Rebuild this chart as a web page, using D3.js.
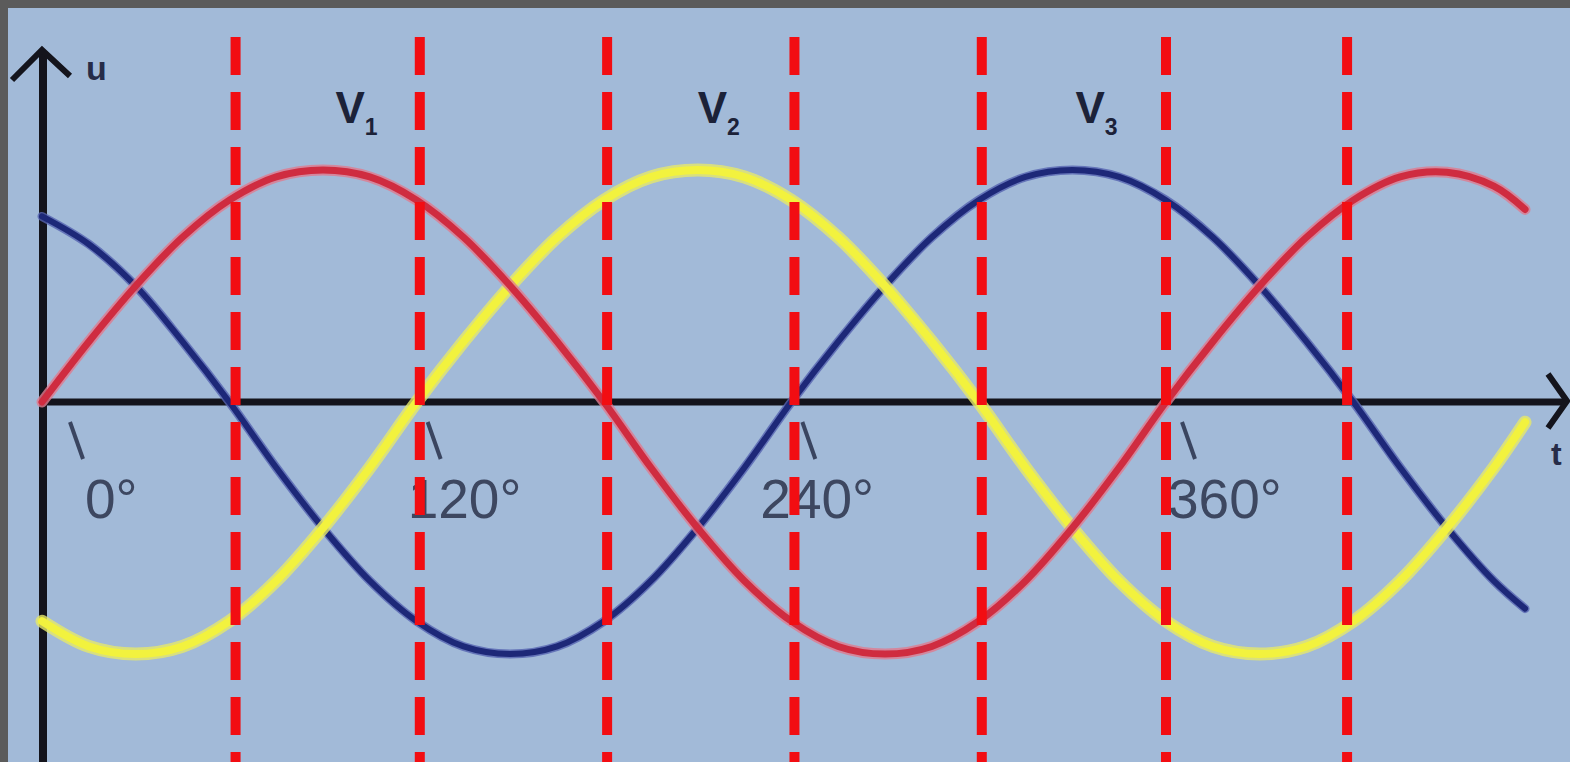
<!DOCTYPE html>
<html>
<head>
<meta charset="utf-8">
<script src="https://cdn.jsdelivr.net/npm/d3@7"></script>
<style>
  html, body { margin: 0; padding: 0; background: #5b5b5b; }
  svg { display: block; }
</style>
</head>
<body>
<svg id="chart" width="1570" height="762"></svg>
<script>
// ---- data ----
const angles = [0, 15, 30, 45, 60, 75, 90, 105, 120, 135, 150, 165, 180, 195, 210, 225, 240, 255, 270, 285, 300, 315, 330, 345, 360, 375, 390, 405, 420, 435, 450, 465, 475];
const v1Values = [0, 0.26, 0.5, 0.71, 0.87, 0.97, 1, 0.97, 0.87, 0.71, 0.5, 0.26, 0, -0.26, -0.5, -0.71, -0.87, -0.97, -1, -0.97, -0.87, -0.71, -0.5, -0.26, 0, 0.26, 0.5, 0.71, 0.87, 0.97, 0.99, 0.93, 0.83];
const v2Values = [-0.87, -0.97, -1, -0.97, -0.87, -0.71, -0.5, -0.26, 0, 0.26, 0.5, 0.71, 0.87, 0.97, 1, 0.97, 0.87, 0.71, 0.5, 0.26, 0, -0.26, -0.5, -0.71, -0.87, -0.97, -1, -0.97, -0.87, -0.71, -0.5, -0.26, -0.08];
const v3Values = [0.8, 0.68, 0.5, 0.26, 0, -0.26, -0.5, -0.71, -0.87, -0.97, -1, -0.97, -0.87, -0.71, -0.5, -0.26, 0, 0.26, 0.5, 0.71, 0.87, 0.97, 1, 0.97, 0.87, 0.71, 0.5, 0.26, 0, -0.26, -0.5, -0.71, -0.82];
const dashAngles = [62, 121, 181, 241, 301, 360, 418];
const tickAngles = [0, 120, 240, 360];
const tickLabels = ["0°", "120°", "240°", "360°"];
const seriesNames = ["1", "2", "3"];
const seriesLabelAngles = [94, 210, 331];

// ---- layout ----
const W = 1570, H = 762;
const svg = d3.select("#chart");
const x = d3.scaleLinear().domain([0, 360]).range([42, 1166]);
const y = d3.scaleLinear().domain([-1, 0, 1]).range([654, 402, 170]);

svg.append("rect").attr("x", 0).attr("y", 0).attr("width", W).attr("height", H).attr("fill", "#5b5b5b");
svg.append("rect").attr("x", 8).attr("y", 8).attr("width", W - 8).attr("height", H - 8).attr("fill", "#a2bad8");

const axisColor = "#14141c";
// vertical axis
svg.append("line").attr("x1", 43).attr("x2", 43).attr("y1", 52).attr("y2", H)
  .attr("stroke", axisColor).attr("stroke-width", 8);
svg.append("path").attr("d", "M12,80 L42,50 L70,76").attr("fill", "none")
  .attr("stroke", axisColor).attr("stroke-width", 6);
// horizontal axis
svg.append("line").attr("x1", 40).attr("x2", 1566).attr("y1", y(0)).attr("y2", y(0))
  .attr("stroke", axisColor).attr("stroke-width", 7);
svg.append("path").attr("d", "M1548,374 L1567,401 L1548,428").attr("fill", "none")
  .attr("stroke", axisColor).attr("stroke-width", 6);

// axis letters
svg.append("text").attr("x", 86).attr("y", 80).text("u")
  .attr("font-family", "Liberation Sans, Arial, sans-serif").attr("font-weight", "bold")
  .attr("font-size", 34).attr("fill", "#262c48");
svg.append("text").attr("x", 1551).attr("y", 465).text("t")
  .attr("font-family", "Liberation Sans, Arial, sans-serif").attr("font-weight", "bold")
  .attr("font-size", 32).attr("fill", "#262c48");

// tick labels
const labelDx = [43, -9, -31, 2];
const slashDx = [28, 11, 11, 16];
tickAngles.forEach((a, i) => {
  const px = x(a);
  svg.append("line")
    .attr("x1", px + slashDx[i]).attr("y1", 422)
    .attr("x2", px + slashDx[i] + 13).attr("y2", 459)
    .attr("stroke", "#3a4560").attr("stroke-width", 4);
  svg.append("text").attr("x", px + labelDx[i]).attr("y", 518)
    .text(tickLabels[i])
    .attr("font-family", "Liberation Sans, Arial, sans-serif")
    .attr("font-size", 55).attr("fill", "#3d4760");
});

// series labels V1, V2, V3
seriesNames.forEach((n, i) => {
  const t = svg.append("text").attr("x", x(seriesLabelAngles[i])).attr("y", 123)
    .attr("font-family", "Liberation Sans, Arial, sans-serif").attr("font-weight", "bold")
    .attr("fill", "#1c2238");
  t.append("tspan").attr("font-size", 44).text("V");
  t.append("tspan").attr("font-size", 23).attr("dy", 12).attr("dx", 0).text(n);
});

// curves
const line = d3.line().x(d => x(d[0])).y(d => y(d[1])).curve(d3.curveCatmullRom.alpha(0.5));
const series = [
  { vals: v3Values, halo: "#5563b0", haloW: 9, core: "#1d2878", coreW: 6 },
  { vals: v2Values, halo: "#e6e86a", haloW: 13, core: "#f2f23e", coreW: 8 },
  { vals: v1Values, halo: "#e07a8e", haloW: 11, core: "#cf2c40", coreW: 7 }
];
series.forEach(s => {
  const pts = angles.map((a, i) => [a, s.vals[i]]);
  svg.append("path").attr("d", line(pts)).attr("fill", "none")
    .attr("stroke", s.halo).attr("stroke-width", s.haloW).attr("stroke-linecap", "round").attr("opacity", 0.8);
  svg.append("path").attr("d", line(pts)).attr("fill", "none")
    .attr("stroke", s.core).attr("stroke-width", s.coreW).attr("stroke-linecap", "round");
});

// red dashed phase lines
dashAngles.forEach(a => {
  svg.append("line").attr("x1", x(a)).attr("x2", x(a)).attr("y1", 37).attr("y2", H)
    .attr("stroke", "#f20d12").attr("stroke-width", 10)
    .attr("stroke-dasharray", "38,17");
});
</script>
</body>
</html>
